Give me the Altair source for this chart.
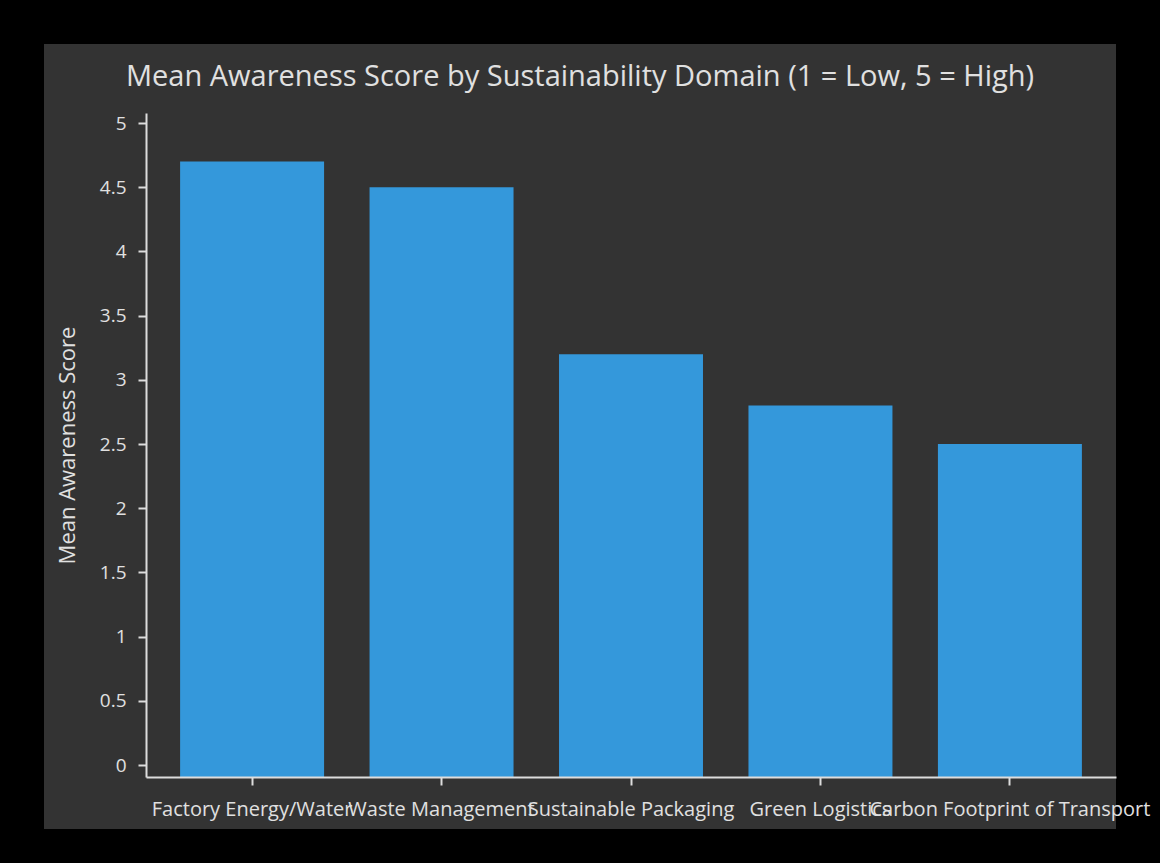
import altair as alt
import pandas as pd

domains = ["Factory Energy/Water", "Waste Management", "Sustainable Packaging",
           "Green Logistics", "Carbon Footprint of Transport"]
scores = [4.7, 4.5, 3.2, 2.8, 2.5]
y_ticks = [0, 0.5, 1, 1.5, 2, 2.5, 3, 3.5, 4, 4.5, 5]
y_domain = [-0.093, 5.078]

df = pd.DataFrame({"domain": domains, "score": scores})

FONT = "Open Sans"
TXT = "#e0e0e0"
W, H = 970, 664

panel = alt.Chart(pd.DataFrame({"p": [0]})).mark_rect(color="#333333").encode(
    x=alt.value(-102), x2=alt.value(970), y=alt.value(-69), y2=alt.value(716)
)

bars = alt.Chart(df).mark_bar(color="#3498db").encode(
    x=alt.X("domain:N", sort=domains,
            scale=alt.Scale(paddingInner=0.24, paddingOuter=0.18),
            axis=alt.Axis(title=None, labelAngle=0, labelOverlap=False, labelLimit=0,
                          labelFont=FONT, labelFontSize=20, labelColor=TXT,
                          domainColor="#dddddd", domainWidth=2,
                          tickColor="#dddddd", tickWidth=2, tickSize=8,
                          labelPadding=14, zindex=1)),
    y=alt.Y("score:Q", scale=alt.Scale(domain=y_domain, nice=False, zero=False),
            axis=alt.Axis(title="Mean Awareness Score", values=y_ticks, format="~g",
                          labelFont=FONT, labelFontSize=19, labelColor=TXT,
                          titleFont=FONT, titleFontSize=22, titleColor=TXT,
                          titleFontWeight="normal",
                          domainColor="#dddddd", domainWidth=2,
                          tickColor="#dddddd", tickWidth=2, tickSize=8,
                          labelPadding=12, grid=False, zindex=1,
                          titleX=-79, titleY=332, titleBaseline="middle",
                          titleAlign="center", titleAngle=270)),
    y2=alt.Y2(datum=y_domain[0]),
)

chart = alt.layer(panel, bars).properties(
    width=W, height=H,
    background="black",
    padding={"left": 146, "top": 113, "right": 44, "bottom": 86},
    autosize=alt.AutoSizeParams(type="none"),
    title=alt.TitleParams(
        "Mean Awareness Score by Sustainability Domain (1 = Low, 5 = High)",
        font=FONT, fontSize=29, color=TXT, fontWeight="normal",
        anchor="middle", dx=-51, dy=48, baseline="top", offset=0, zindex=1,
    ),
).configure_view(stroke=None, fill=None)

chart.save("out.html", embed_options={"renderer": "svg", "actions": False})
